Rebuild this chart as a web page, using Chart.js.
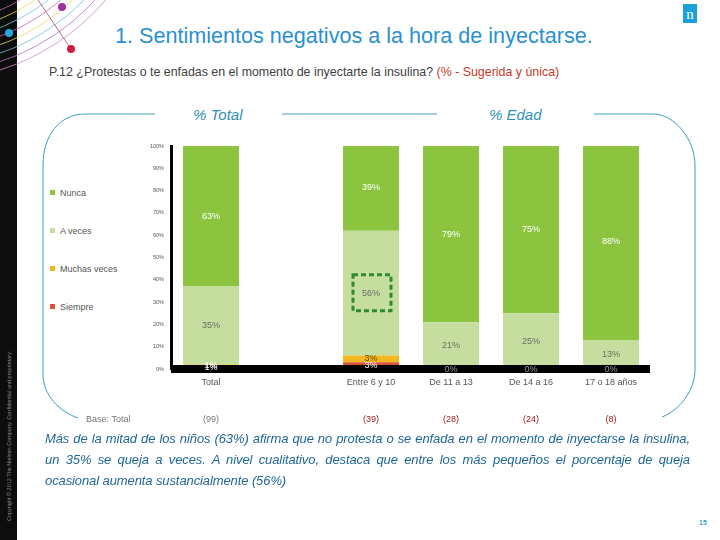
<!DOCTYPE html>
<html lang="es">
<head>
<meta charset="UTF-8">
<title>Sentimientos negativos a la hora de inyectarse</title>
<script src="https://cdn.jsdelivr.net/npm/chart.js"></script>
<style>
  body { margin: 0; width: 720px; height: 540px; background: #fff; position: relative; overflow: hidden; font-family: 'Liberation Sans', Arial, sans-serif; }
  .abs { position: absolute; }
  #strip { left: 0; top: 0; width: 17px; height: 540px; background: #0d0d0d; }
  #copy { left: -95px; top: 433px; width: 208px; transform: rotate(-90deg); font-size: 5.5px; color: #8a8a8a; white-space: nowrap; text-align: center; }
  #title { left: 115px; top: 23px; font-size: 21.6px; color: #2a90d0; white-space: nowrap; }
  #sub { left: 49px; top: 65px; font-size: 12.4px; color: #404040; white-space: nowrap; }
  #sub span { color: #c43a1e; }
  .head { font-size: 15px; font-style: italic; color: #2f8fb5; top: 106px; }
  #legend div { position: absolute; left: 50px; font-size: 9px; color: #555; white-space: nowrap; }
  #legend i { display: inline-block; width: 5px; height: 5px; margin-right: 5px; vertical-align: 1px; }
  #chartBox { left: 40px; top: 130px; width: 640px; height: 300px; }
  #note { left: 45px; top: 428px; width: 645px; font-size: 13px; letter-spacing: -0.1px; line-height: 21px; font-style: italic; color: #1f6796; text-align: justify; }
  #page { left: 699px; top: 519px; font-size: 7px; font-weight: bold; color: #3a9fbf; }
</style>
</head>
<body>
<div id="strip" class="abs"></div>
<div id="copy" class="abs">Copyright © 2012 The Nielsen Company. Confidential and proprietary.</div>
<svg class="abs" style="left:0;top:0" width="720" height="540">
  <g fill="none" stroke-width="0.8">
    <circle cx="-70" cy="-150" r="175" stroke="#c76bb0"/>
    <circle cx="-70" cy="-150" r="183" stroke="#e8d55a"/>
    <circle cx="-70" cy="-150" r="191" stroke="#6fc3d8"/>
    <circle cx="-70" cy="-150" r="199" stroke="#c76bb0"/>
    <circle cx="-70" cy="-150" r="207" stroke="#e8d55a"/>
    <circle cx="-70" cy="-150" r="215" stroke="#6fc3d8"/>
    <circle cx="-70" cy="-150" r="223" stroke="#b070c0"/>
    <circle cx="-70" cy="-150" r="231" stroke="#d08ac0"/>
    <line x1="38" y1="0" x2="71" y2="49" stroke="#b04070"/>
  </g>
  <circle cx="62" cy="7" r="4" fill="#a0309a"/>
  <circle cx="9" cy="33" r="4" fill="#25a8e0"/>
  <circle cx="71" cy="49" r="4" fill="#d01c3c"/>
  <rect x="683" y="4" width="14" height="19" fill="#1aa0db"/>
  <text x="690" y="19" fill="#fff" font-family="Liberation Serif" font-size="15" text-anchor="middle">n</text>
  <g fill="none" stroke="#3a9fbf" stroke-width="1">
    <path d="M155,114 L85,114 C60,114 43,135 43,165 L43,375 C43,395 60,412 78,418"/>
    <path d="M282,114 L437,114"/>
    <path d="M594,114 L653,114 C675,114 695,140 695,165 L695,370 C695,390 680,410 662,417"/>
  </g>
</svg>
<div id="title" class="abs">1. Sentimientos negativos a la hora de inyectarse.</div>
<div id="sub" class="abs">P.12 ¿Protestas o te enfadas en el momento de inyectarte la insulina? <span>(% - Sugerida y única)</span></div>
<div class="abs head" style="left:193px">% Total</div>
<div class="abs head" style="left:489px">% Edad</div>
<div id="legend"></div>
<div id="chartBox" class="abs"><canvas id="c"></canvas></div>
<div id="note" class="abs">Más de la mitad de los niños (63%) afirma que no protesta o se enfada en el momento de inyectarse la insulina, un 35% se queja a veces. A nivel cualitativo, destaca que entre los más pequeños el porcentaje de queja ocasional aumenta sustancialmente (56%)</div>
<div id="page" class="abs">15</div>

<script>
// categorias (el hueco separa Total de los grupos de edad)
const categories = ['Total', '', 'Entre 6 y 10', 'De 11 a 13', 'De 14 a 16', '17 o 18 años'];
const bases = ['(99)', '', '(39)', '(28)', '(24)', '(8)'];
const baseColors = ['#777', '', '#a01c1c', '#a01c1c', '#a01c1c', '#a01c1c'];

const seriesNames = ['Nunca', 'A veces', 'Muchas veces', 'Siempre'];
const seriesColors = ['#8dc43f', '#c5de9f', '#f2b81f', '#d9533b'];
const labelColors = ['#ffffff', '#6b6b6b', '#6b4a00', '#ffffff'];

const siempre = [1, null, 3, 0, 0, 0];
const muchasVeces = [1, null, 3, 0, 0, 0];
const aVeces = [35, null, 56, 21, 25, 13];
const nunca = [63, null, 39, 79, 75, 88];

const yTicks = [0, 10, 20, 30, 40, 50, 60, 70, 80, 90, 100];

// leyenda en html
const legendTops = [188, 226, 264, 302];
const legend = document.getElementById('legend');
seriesNames.forEach((n, i) => {
  const d = document.createElement('div');
  d.style.top = legendTops[i] + 'px';
  d.innerHTML = '<i style="background:' + seriesColors[i] + '"></i>' + n;
  legend.appendChild(d);
});

// orden de pila: abajo Siempre, arriba Nunca
const stackData = [siempre, muchasVeces, aVeces, nunca];
const stackIdx = [3, 2, 1, 0];

const overlay = {
  id: 'overlay',
  afterDatasetsDraw(chart) {
    const { ctx, chartArea, scales } = chart;
    const x = scales.x, y = scales.y;
    const zero = y.getPixelForValue(0);
    ctx.save();
    // banda negra en la base
    ctx.fillStyle = '#000';
    ctx.fillRect(chartArea.left, zero - 4, chartArea.right - chartArea.left - 1, 8);

    ctx.font = '9px "Liberation Sans", Arial, sans-serif';
    ctx.textAlign = 'center';
    ctx.textBaseline = 'middle';
    chart.data.datasets.forEach((ds, di) => {
      const meta = chart.getDatasetMeta(di);
      const s = stackIdx[di];
      meta.data.forEach((el, j) => {
        const v = ds.data[j];
        if (v === null) return;
        if (v === 0) {
          if (s !== 3) return;
          ctx.fillStyle = '#9a9a9a';
          ctx.fillText('0%', el.x, zero + 0.5);
          return;
        }
        const cy = (el.y + el.base) / 2;
        ctx.fillStyle = cy > zero - 5 ? '#fff' : labelColors[s];
        ctx.fillText(v + '%', el.x, cy);
      });
    });

    // recuadro punteado en 56%
    const el = chart.getDatasetMeta(2).data[2];
    const cy = (el.y + el.base) / 2 - 0.5;
    ctx.strokeStyle = '#2e8b2e';
    ctx.lineWidth = 3;
    ctx.setLineDash([5, 3]);
    ctx.strokeRect(el.x - 18, cy - 18, 38, 36);
    ctx.setLineDash([]);

    // fila de base
    ctx.fillStyle = '#777';
    ctx.textAlign = 'left';
    ctx.fillText('Base: Total', 46, 290);
    ctx.textAlign = 'center';
    bases.forEach((b, j) => {
      if (!b) return;
      ctx.fillStyle = baseColors[j];
      ctx.fillText(b, x.getPixelForValue(j), 290);
    });
    ctx.restore();
  }
};

new Chart(document.getElementById('c'), {
  type: 'bar',
  data: {
    labels: categories,
    datasets: stackData.map((d, k) => ({
      label: seriesNames[stackIdx[k]],
      data: d,
      backgroundColor: seriesColors[stackIdx[k]],
      borderWidth: 0,
      categoryPercentage: 0.7,
      barPercentage: 1
    }))
  },
  options: {
    responsive: true,
    maintainAspectRatio: false,
    animation: false,
    layout: { padding: { top: 16, right: 29, bottom: 0, left: 0 } },
    plugins: { legend: { display: false }, tooltip: { enabled: false } },
    scales: {
      x: {
        stacked: true,
        grid: { display: false, drawTicks: false },
        border: { display: false },
        ticks: { color: '#555', padding: 8, font: { size: 9, family: 'Liberation Sans' } },
        afterFit(s) { s.height = 61; }
      },
      y: {
        stacked: true,
        min: 0, max: 100,
        grid: { display: false, drawTicks: false },
        border: { display: true, color: '#000', width: 3 },
        afterBuildTicks(s) { s.ticks = yTicks.map(v => ({ value: v })); },
        ticks: { color: '#555', padding: 7, font: { size: 5.5, family: 'Liberation Sans' }, callback: v => v + '%' },
        afterFit(s) { s.width = 131; }
      }
    }
  },
  plugins: [overlay]
});
</script>
</body>
</html>
